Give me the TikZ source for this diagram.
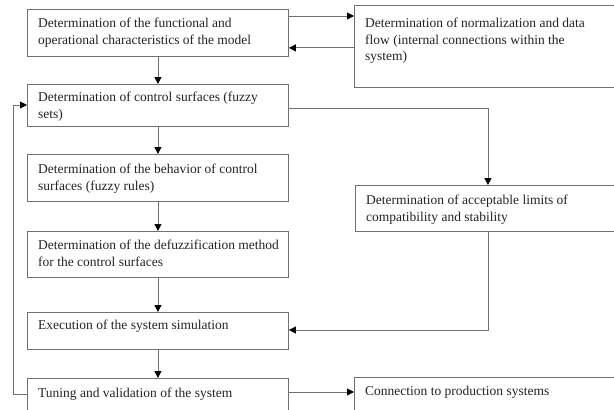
\documentclass[tikz,border=0pt]{standalone}
\usepackage{fontspec}
\setmainfont{Liberation Serif}
\usetikzlibrary{arrows.meta,calc}
\definecolor{linegray}{RGB}{112,112,112}
\definecolor{txtgray}{RGB}{35,35,35}
\tikzset{
  box/.style={draw=linegray, line width=0.9pt, rectangle, inner sep=0pt, anchor=north west},
  txt/.style={anchor=north west, inner sep=0pt, align=left, text=txtgray,
    font=\fontsize{13.5}{16.5}\selectfont},
  conn/.style={draw=linegray, line width=0.9pt},
  arr/.style={conn, -{Triangle[length=7pt,width=7pt,fill=black,color=black]}},
}
\begin{document}
\begin{tikzpicture}[x=1pt,y=-1pt]
\useasboundingbox (0,0) rectangle (614,410);
% boxes
\node[box, minimum width=261pt, minimum height=47pt] (b1) at (27,9) {};
\node[box, minimum width=266pt, minimum height=82pt] (r1) at (354,5) {};
\node[box, minimum width=261pt, minimum height=42pt] (b2) at (27,84) {};
\node[box, minimum width=261pt, minimum height=47pt] (b3) at (27,154) {};
\node[box, minimum width=261pt, minimum height=46pt] (b4) at (27,231) {};
\node[box, minimum width=261pt, minimum height=37pt] (b5) at (27,312) {};
\node[box, minimum width=261pt, minimum height=40pt] (b6) at (27,378) {};
\node[box, minimum width=265pt, minimum height=46pt] (r2) at (355,185) {};
\node[box, minimum width=266pt, minimum height=40pt] (r3) at (354,377) {};
% texts
\node[txt] (t1) at ([shift={(11,9)}]b1.north west) {Determination of the functional and\\operational characteristics of the model};
\node[txt] (tr1) at ([shift={(11,13)}]r1.north west) {Determination of normalization and data\\flow (internal connections within the\\system)};
\node[txt] (t2) at ([shift={(11,8)}]b2.north west) {Determination of control surfaces (fuzzy\\sets)};
\node[txt] (t3) at ([shift={(11,10)}]b3.north west) {Determination of the behavior of control\\surfaces (fuzzy rules)};
\node[txt] (t4) at ([shift={(11,9)}]b4.north west) {Determination of the defuzzification method\\for the control surfaces};
\node[txt] (t5) at ([shift={(11,8)}]b5.north west) {Execution of the system simulation};
\node[txt] (t6) at ([shift={(11,10)}]b6.north west) {Tuning and validation of the system};
\node[txt] (tr2) at ([shift={(11,10)}]r2.north west) {Determination of acceptable limits of\\compatibility and stability};
\node[txt] (tr3) at ([shift={(11,9)}]r3.north west) {Connection to production systems};
% connectors
\draw[arr] ([yshift=-7pt]b1.north east) -- ([yshift=-7pt]b1.north east -| r1.west);
\draw[arr] ([yshift=9pt]b1.south east -| r1.west) -- ([yshift=9pt]b1.south east);
\draw[arr] (b1.south) -- (b2.north);
\draw[arr] ([yshift=-24pt]b2.north east) -| (r2.north);
\draw[arr] (b2.south) -- (b3.north);
\draw[arr] (b3.south) -- (b4.north);
\draw[arr] (b4.south) -- (b5.north);
\draw[arr] (b5.south) -- (b6.north);
\draw[arr] (r2.south) |- ([yshift=-18pt]b5.north east);
\draw[arr] ([yshift=-16pt]b6.north west) -- ++(-14,0) |- ([yshift=-21pt]b2.north west);
\draw[arr] ([yshift=-14pt]b6.north east) -- ([yshift=-14pt]b6.north east -| r3.west);
\end{tikzpicture}
\end{document}
